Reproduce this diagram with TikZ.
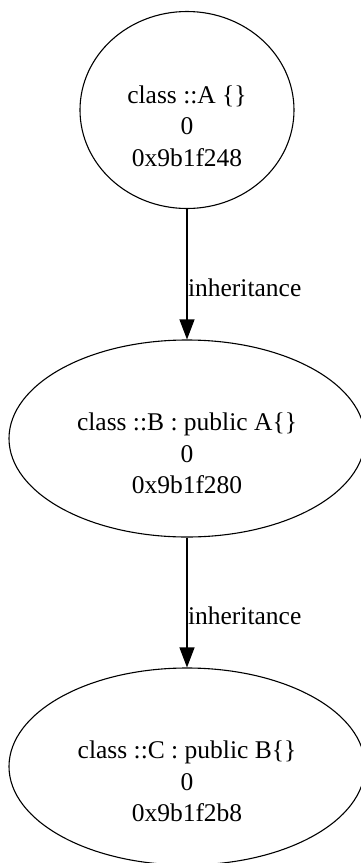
\documentclass[tikz,border=0pt]{standalone}
\usepackage{fontspec}
\setmainfont{Liberation Serif}
\usetikzlibrary{shapes.geometric,arrows.meta}
\begin{document}
\begin{tikzpicture}[
    x=1pt, y=-1pt,
    cls/.style={ellipse, draw, line width=1.1pt, minimum height=197pt, inner sep=0pt},
    txt/.style={align=center, inner sep=0pt, font=\fontsize{25.5}{31.5}\selectfont},
    inh/.style={line width=1.1pt, -{Triangle[length=20pt,width=15pt]}},
    tlabel/.style={pos=0.67, anchor=base west, inner sep=0pt, xshift=0.5pt, font=\fontsize{25.5}{30}\selectfont}
    ]
  \useasboundingbox (0,0) rectangle (360,863);
	\node [cls, minimum width=214pt] (A) at (187,110) {};
	\node [cls, minimum width=356pt] (B) at (187,438.5) {};
	\node [cls, minimum width=356pt] (C) at (187,766.5) {};
	\node [txt] (Atxt) at ([yshift=-16pt]A.center) {class ::A \{\}\\0\\0x9b1f248};
	\node [txt] (Btxt) at ([yshift=-15pt]B.center) {class ::B : public A\{\}\\0\\0x9b1f280};
	\node [txt] (Ctxt) at ([yshift=-15pt]C.center) {class ::C : public B\{\}\\0\\0x9b1f2b8};
	\draw [inh] (A.south) -- node[tlabel]{inheritance} (B.north);
	\draw [inh] (B.south) -- node[tlabel]{inheritance} (C.north);
\end{tikzpicture}
\end{document}
